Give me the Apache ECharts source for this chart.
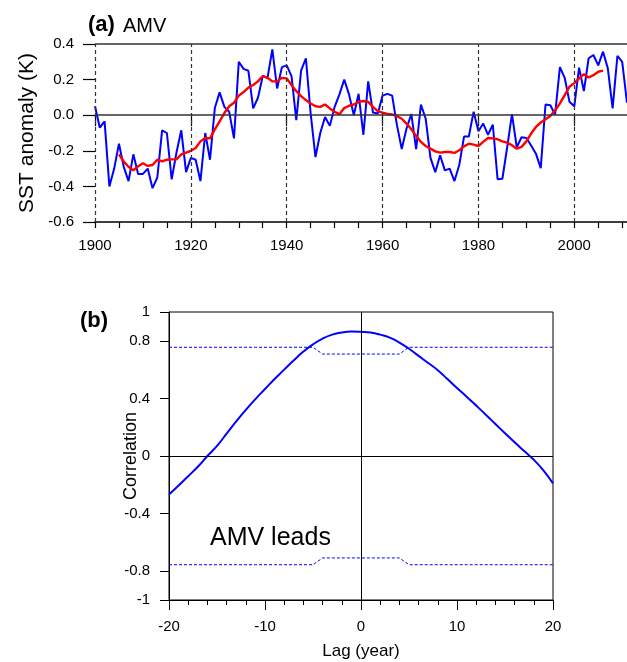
<!DOCTYPE html>
<html>
<head>
<meta charset="utf-8">
<script src="https://cdn.jsdelivr.net/npm/echarts@6/dist/echarts.min.js"></script>
<style>html,body{margin:0;padding:0;background:#fff}#c{width:627px;height:662px}</style>
</head>
<body>
<div id="c"></div>
<script>
// ---- Panel (a): AMV index ----
const amvYears = [];
for (let y = 1900; y <= 2011; y++) amvYears.push(y);
const amvAnnual = [
  0.05, -0.07, -0.035, -0.40, -0.30, -0.16, -0.29, -0.37, -0.22, -0.33,
  -0.33, -0.30, -0.41, -0.35, -0.085, -0.10, -0.36, -0.21, -0.085, -0.32,
  -0.24, -0.25, -0.37, -0.10, -0.25, 0.04, 0.128, 0.047, 0.019, -0.13,
  0.30, 0.26, 0.25, 0.038, 0.098, 0.22, 0.21, 0.37, 0.15, 0.27,
  0.28, 0.22, -0.028, 0.25, 0.32, 0.009, -0.235, -0.10, -0.01, -0.06,
  0.047, 0.117, 0.20, 0.117, 0.0, 0.12, -0.11, 0.19, 0.015, 0.009,
  0.11, 0.12, 0.11, -0.056, -0.19, -0.075, 0.007, -0.19, 0.06, -0.02,
  -0.24, -0.32, -0.225, -0.31, -0.30, -0.37, -0.28, -0.12, -0.12, 0.02,
  -0.09, -0.047, -0.11, -0.053, -0.36, -0.357, -0.18, 0.006, -0.18, -0.124,
  -0.128, -0.17, -0.216, -0.297, 0.06, 0.056, 0.004, 0.27, 0.21, 0.075,
  0.05, 0.267, 0.135, 0.32, 0.338, 0.28, 0.357, 0.263, 0.038, 0.334,
  0.30, 0.07
];
const smoothYears = [];
for (let y = 1905; y <= 2006; y++) smoothYears.push(y);
const amvSmooth = [
  -0.22, -0.26, -0.29, -0.31, -0.287, -0.27, -0.285, -0.28, -0.25, -0.26,
  -0.25, -0.248, -0.248, -0.22, -0.21, -0.20, -0.184, -0.147, -0.128, -0.13,
  -0.08, -0.035, 0.012, 0.05, 0.07, 0.11, 0.13, 0.155, 0.17, 0.19,
  0.22, 0.21, 0.19, 0.19, 0.21, 0.207, 0.17, 0.135, 0.107, 0.085,
  0.066, 0.05, 0.047, 0.06, 0.038, 0.019, 0.006, 0.04, 0.053, 0.06,
  0.075, 0.08, 0.075, 0.047, 0.023, 0.015, 0.007, 0.004, -0.006, -0.02,
  -0.047, -0.079, -0.116, -0.15, -0.173, -0.188, -0.203, -0.21, -0.207, -0.207,
  -0.212, -0.197, -0.175, -0.16, -0.165, -0.173, -0.15, -0.128, -0.13, -0.135,
  -0.147, -0.154, -0.169, -0.188, -0.178, -0.147, -0.103, -0.066, -0.041, -0.023,
  -0.004, 0.028, 0.066, 0.113, 0.16, 0.18, 0.207, 0.23, 0.212, 0.225,
  0.244, 0.25
];
const yearLabelTicks = [1900, 1920, 1940, 1960, 1980, 2000];
const yearMinorTicks = [];
for (let y = 1900; y <= 2010; y += 5) yearMinorTicks.push(y);
const sstRefLines = [0, 0.4];

// ---- Panel (b): lag correlation ----
const lags = [];
for (let l = -20; l <= 20; l++) lags.push(l);
const corr = [
  -0.267, -0.205, -0.14, -0.075, 0.0, 0.07, 0.155, 0.24, 0.32, 0.395,
  0.465, 0.535, 0.60, 0.665, 0.725, 0.775, 0.815, 0.843, 0.858, 0.864,
  0.862,
  0.857, 0.843, 0.822, 0.788, 0.745, 0.695, 0.646, 0.596, 0.534, 0.472,
  0.412, 0.350, 0.287, 0.222, 0.158, 0.095, 0.034, -0.026, -0.10, -0.19
];
const sigUpper = lags.map(l => (Math.abs(l) <= 4 ? 0.708 : 0.755));
const sigLower = sigUpper.map(v => -v);
const corrTickValues = [-1, -0.8, -0.4, 0, 0.4, 0.8, 1];

const FONT = '"Liberation Sans", Arial, Helvetica, sans-serif';
const pair = (xs, ys) => xs.map((x, i) => [x, ys[i]]);

const chart = echarts.init(document.getElementById('c'), null, {renderer: 'canvas'});
const option = {
  backgroundColor: '#ffffff',
  animation: false,
  textStyle: {fontFamily: FONT},
  grid: [
    {left: 95, top: 44, width: 534, height: 178, containLabel: false},
    {left: 169, top: 312, width: 384, height: 288, containLabel: false,
     show: true, borderColor: '#000', borderWidth: 1, backgroundColor: 'transparent'}
  ],
  xAxis: [
    {
      gridIndex: 0, type: 'value', min: 1900, max: 2011, position: 'bottom',
      axisLine: {show: true, onZero: false, lineStyle: {color: '#000', width: 1.5}},
      axisTick: {show: true, customValues: yearMinorTicks, length: 6, lineStyle: {color: '#000', width: 1.2}},
      axisLabel: {show: true, customValues: yearLabelTicks, margin: 16, fontSize: 15, color: '#000', fontFamily: FONT,
                  formatter: v => String(Math.round(v))},
      splitLine: {show: false}
    },
    {
      gridIndex: 0, type: 'value', min: 1900, max: 2011, position: 'bottom',
      axisLine: {show: false},
      axisTick: {show: true, customValues: yearLabelTicks, length: 11, lineStyle: {color: '#000', width: 1.2}},
      axisLabel: {show: false},
      splitLine: {show: false}
    },
    {
      gridIndex: 1, type: 'value', min: -20, max: 20, interval: 10,
      axisLine: {show: true, onZero: false, lineStyle: {color: '#000', width: 1}},
      axisTick: {show: true, length: 10, lineStyle: {color: '#000', width: 1}},
      minorTick: {show: true, splitNumber: 5, length: 5, lineStyle: {color: '#000', width: 1}},
      axisLabel: {margin: 19, fontSize: 15, color: '#000', fontFamily: FONT},
      splitLine: {show: false}
    }
  ],
  yAxis: [
    {
      gridIndex: 0, type: 'value', min: -0.6, max: 0.4, interval: 0.2,
      axisLine: {show: false},
      axisTick: {show: true, length: 12, lineStyle: {color: '#000', width: 1.2}},
      axisLabel: {margin: 21, fontSize: 15, color: '#000', fontFamily: FONT,
                  formatter: v => (Math.abs(v) < 1e-9 ? 0 : v).toFixed(1)},
      splitLine: {show: false}
    },
    {
      gridIndex: 1, type: 'value', min: -1, max: 1,
      axisLine: {show: true, onZero: false, lineStyle: {color: '#000', width: 1}},
      axisTick: {show: true, customValues: corrTickValues, length: 9, lineStyle: {color: '#000', width: 1}},
      axisLabel: {customValues: corrTickValues, margin: 19, fontSize: 15, color: '#000', fontFamily: FONT,
                  formatter: v => String(Math.round(v * 10) / 10)},
      splitLine: {show: false}
    }
  ],
  series: [
    {
      type: 'line', xAxisIndex: 0, yAxisIndex: 0, data: [], silent: true,
      markLine: {
        silent: true, symbol: 'none', label: {show: false}, animation: false,
        data: yearLabelTicks.map(y => ({xAxis: y, lineStyle: {type: [4, 3], color: '#333', width: 1.2}}))
          .concat(sstRefLines.map(v => ({yAxis: v, lineStyle: {type: 'solid', color: '#333', width: 1.5}})))
      }
    },
    {
      type: 'line', xAxisIndex: 0, yAxisIndex: 0, data: pair(amvYears, amvAnnual),
      showSymbol: false, lineStyle: {color: '#0000ff', width: 2}, z: 3
    },
    {
      type: 'line', xAxisIndex: 0, yAxisIndex: 0, data: pair(smoothYears, amvSmooth),
      showSymbol: false, lineStyle: {color: '#ff0000', width: 2.4}, z: 4
    },
    {
      type: 'line', xAxisIndex: 2, yAxisIndex: 1, data: [], silent: true,
      markLine: {
        silent: true, symbol: 'none', label: {show: false}, animation: false,
        lineStyle: {type: 'solid', color: '#000', width: 1},
        data: [{xAxis: 0}, {yAxis: 0}]
      }
    },
    {
      type: 'line', xAxisIndex: 2, yAxisIndex: 1, data: pair(lags, corr),
      showSymbol: false, smooth: 0.5, lineStyle: {color: '#0000ff', width: 2}, z: 3
    },
    {
      type: 'line', xAxisIndex: 2, yAxisIndex: 1, data: pair(lags, sigUpper),
      showSymbol: false, lineStyle: {color: '#0000ff', width: 1, type: [3, 2]}, z: 2
    },
    {
      type: 'line', xAxisIndex: 2, yAxisIndex: 1, data: pair(lags, sigLower),
      showSymbol: false, lineStyle: {color: '#0000ff', width: 1, type: [3, 2]}, z: 2
    }
  ],
  graphic: [
    {type: 'text', left: 88, top: 14, style: {text: '(a)', font: 'bold 22px ' + FONT, fill: '#000'}},
    {type: 'text', left: 123, top: 16, style: {text: 'AMV', font: '20px ' + FONT, fill: '#000'}},
    {type: 'text', left: 80, top: 310, style: {text: '(b)', font: 'bold 22px ' + FONT, fill: '#000'}},
    {type: 'text', x: 27, y: 133, rotation: Math.PI / 2,
     style: {text: 'SST anomaly (K)', font: '21px ' + FONT, fill: '#000', align: 'center', verticalAlign: 'middle'}},
    {type: 'text', x: 131, y: 456, rotation: Math.PI / 2,
     style: {text: 'Correlation', font: '18px ' + FONT, fill: '#000', align: 'center', verticalAlign: 'middle'}},
    {type: 'text', x: 361, y: 651,
     style: {text: 'Lag (year)', font: '17px ' + FONT, fill: '#000', align: 'center', verticalAlign: 'middle'}},
    {type: 'text', x: 210, y: 538,
     style: {text: 'AMV leads', font: '25px ' + FONT, fill: '#000', align: 'left', verticalAlign: 'middle'}}
  ]
};
chart.setOption(option);
</script>
</body>
</html>
